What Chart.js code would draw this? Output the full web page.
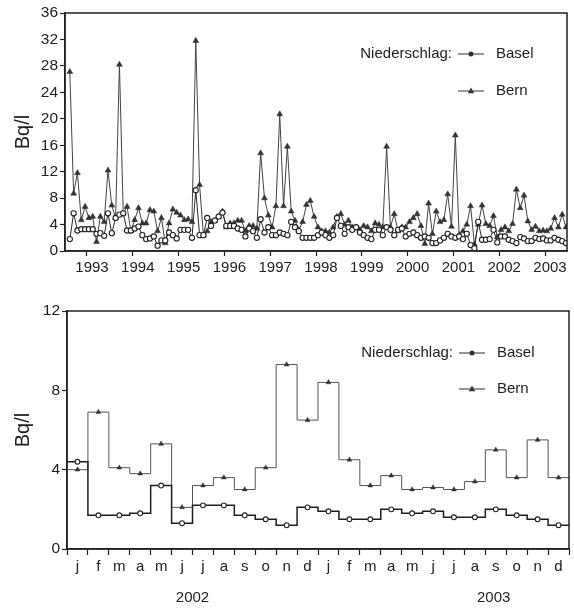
<!DOCTYPE html>
<html>
<head>
<meta charset="utf-8">
<script src="https://cdn.jsdelivr.net/npm/chart.js@4/dist/chart.umd.min.js"></script>
<style>
  html, body { margin: 0; padding: 0; background: #fff; }
  canvas { display: block; }
</style>
</head>
<body>
<canvas id="overview" width="574" height="290"></canvas>
<canvas id="detail" width="574" height="320"></canvas>
<script>
'use strict';

// Series names and key heading
const seriesNames = ['Basel', 'Bern'];
const keyHeading = 'Niederschlag:';

// Monthly means 2002-2003 (Bq/l)
const monthLabels = ['j', 'f', 'm', 'a', 'm', 'j', 'j', 'a', 's', 'o', 'n', 'd',
                     'j', 'f', 'm', 'a', 'm', 'j', 'j', 'a', 's', 'o', 'n', 'd'];
const yearLabels = ['2002', '2003'];
const detailBasel = [4.4, 1.7, 1.7, 1.8, 3.2, 1.3, 2.2, 2.2, 1.7, 1.5, 1.2, 2.1,
                     1.9, 1.5, 1.5, 2.0, 1.8, 1.9, 1.6, 1.6, 2.0, 1.7, 1.5, 1.2];
const detailBern = [4.0, 6.9, 4.1, 3.8, 5.3, 2.1, 3.2, 3.6, 3.0, 4.1, 9.3, 6.5,
                    8.4, 4.5, 3.2, 3.7, 3.0, 3.1, 3.0, 3.4, 5.0, 3.6, 5.5, 3.6];

// Long record, monthly, earlier part (the last 24 months are the detail values)
const earlierBasel = [
  1.8, 5.7, 3.1, 3.3, 3.3, 3.3, 3.3, 2.6, 2.7, 2.3,
  5.7, 2.7, 5.0, 5.5, 5.7, 3.1, 3.1, 3.4, 3.7, 2.4,
  1.8, 1.9, 2.2, 0.8, 1.6, 1.6, 2.8, 2.4, 1.9, 3.2,
  3.2, 3.2, 2.0, 9.2, 2.4, 2.4, 5.0, 3.8, 4.6, 5.2,
  5.8, 3.8, 3.8, 3.8, 3.4, 3.2, 2.2, 3.4, 3.0, 2.0,
  4.8, 2.8, 3.6, 2.4, 2.4, 2.8, 2.6, 2.4, 4.4, 3.6,
  3.0, 2.0, 2.0, 2.0, 2.0, 2.4, 2.8, 2.4, 2.0, 2.4,
  5.0, 3.8, 2.6, 3.6, 3.2, 3.6, 2.8, 2.4, 2.0, 1.8,
  3.2, 3.2, 2.4, 3.6, 3.2, 2.4, 3.2, 3.4, 2.2, 2.6,
  2.8, 2.4, 2.0, 2.2, 2.0, 1.2, 1.2, 1.6, 2.0, 2.6,
  2.2, 2.0, 2.2, 1.8, 2.6, 0.9, 0.4
];
const earlierBern = [
  27.1, 8.7, 11.8, 4.7, 6.7, 5.0, 5.2, 1.4, 5.2, 4.4,
  12.2, 6.9, 5.0, 28.2, 5.7, 6.7, 3.0, 4.7, 6.5, 4.2,
  4.2, 6.2, 6.0, 3.0, 5.0, 1.2, 4.2, 6.3, 5.8, 5.4,
  4.7, 4.8, 4.4, 31.8, 10.0, 2.4, 3.0, 4.4, 4.6, 5.2,
  6.0, 3.6, 4.2, 4.2, 4.6, 4.6, 3.0, 3.8, 3.8, 3.4,
  14.8, 8.0, 5.4, 3.6, 6.8, 20.7, 6.8, 15.8, 6.0, 4.6,
  3.2, 4.4, 7.0, 7.6, 5.2, 3.6, 3.0, 3.0, 2.8, 3.6,
  5.2, 5.6, 4.0, 4.6, 3.6, 3.6, 3.2, 3.8, 3.6, 3.0,
  4.2, 4.0, 3.6, 15.8, 3.6, 5.6, 3.0, 3.6, 3.6, 4.4,
  5.0, 5.6, 3.8, 1.1, 7.2, 2.6, 6.0, 4.4, 4.7, 8.6,
  3.7, 17.5, 2.4, 3.0, 4.0, 6.8, 1.0
];
const overviewBasel = earlierBasel.concat(detailBasel);
const overviewBern = earlierBern.concat(detailBern);
const overviewYears = [1993, 1994, 1995, 1996, 1997, 1998, 1999, 2000, 2001, 2002, 2003];
const overviewStart = 1992 + 7.5 / 12;   // first monthly point on the year axis

const FONT = '"Liberation Sans", Arial, sans-serif';
const INK = '#222';

// box round the plot area
const frame = {
  id: 'frame',
  afterDatasetsDraw(chart) {
    const { ctx, chartArea: a } = chart;
    ctx.save();
    ctx.strokeStyle = INK;
    ctx.lineWidth = 1.5;
    ctx.strokeRect(a.left, a.top, a.right - a.left, a.bottom - a.top);
    ctx.restore();
  }
};

// key in the top right corner: "Niederschlag:  —•— Basel / —▲— Bern"
const seriesKey = {
  id: 'seriesKey',
  afterDraw(chart, args, opts) {
    const ctx = chart.ctx;
    ctx.save();
    ctx.font = '15px ' + FONT;
    ctx.fillStyle = INK;
    ctx.textBaseline = 'middle';
    ctx.textAlign = 'right';
    ctx.fillText(keyHeading, opts.x - 6, opts.y);
    ctx.textAlign = 'left';
    seriesNames.forEach((name, i) => {
      const y = opts.y + i * opts.rowGap;
      const mid = opts.x + 13;
      ctx.strokeStyle = '#333';
      ctx.lineWidth = 1;
      ctx.beginPath();
      ctx.moveTo(opts.x, y);
      ctx.lineTo(opts.x + 26, y);
      ctx.stroke();
      ctx.fillStyle = '#333';
      ctx.beginPath();
      if (i === 0) {
        ctx.arc(mid, y, 2.5, 0, Math.PI * 2);
      } else {
        ctx.moveTo(mid, y - 3.5);
        ctx.lineTo(mid + 3.2, y + 2.2);
        ctx.lineTo(mid - 3.2, y + 2.2);
        ctx.closePath();
      }
      ctx.fill();
      ctx.fillStyle = INK;
      ctx.fillText(name, opts.x + 38, y);
    });
    ctx.restore();
  }
};

Chart.defaults.font.family = FONT;
Chart.defaults.color = INK;

function yAxis(max, width) {
  return {
    min: 0,
    max: max,
    grid: { drawOnChartArea: false, tickLength: 5, tickColor: INK, tickWidth: 1.2 },
    border: { color: INK, width: 1.5 },
    ticks: { stepSize: 4, padding: 2, font: { size: 15.5 }, color: INK },
    title: { display: true, text: 'Bq/l', font: { size: 20 }, color: INK, padding: { top: 11, bottom: 0 } },
    afterFit(scale) { scale.width = width; }
  };
}

// ---- long record ----
new Chart(document.getElementById('overview'), {
  type: 'line',
  data: {
    datasets: [{
      label: seriesNames[0],
      data: overviewBasel.map((v, i) => ({ x: overviewStart + i / 12, y: v })),
      borderColor: '#2a2a2a',
      borderWidth: 1,
      pointStyle: 'circle',
      pointRadius: 2.6,
      pointBorderWidth: 1.1,
      pointBackgroundColor: '#fff',
      pointBorderColor: '#222'
    }, {
      label: seriesNames[1],
      data: overviewBern.map((v, i) => ({ x: overviewStart + i / 12, y: v })),
      borderColor: '#444',
      borderWidth: 1,
      pointStyle: 'triangle',
      pointRadius: 3.4,
      pointBorderWidth: 0.5,
      pointBackgroundColor: '#333',
      pointBorderColor: '#333'
    }]
  },
  options: {
    responsive: false,
    animation: false,
    layout: { padding: { top: 13, right: 7, left: 0, bottom: 0 } },
    plugins: {
      legend: { display: false },
      tooltip: { enabled: false },
      seriesKey: { x: 458, y: 54, rowGap: 37 }
    },
    scales: {
      x: {
        type: 'linear',
        min: 1992.52,
        max: 2003.48,
        grid: { drawOnChartArea: false, tickLength: 5, tickColor: INK, tickWidth: 1.2 },
        border: { color: INK, width: 1.5 },
        afterBuildTicks(scale) { scale.ticks = overviewYears.map(v => ({ value: v })); },
        ticks: {
          autoSkip: false,
          maxRotation: 0,
          padding: 3,
          labelOffset: 5,
          font: { size: 15 },
          color: INK,
          callback: v => String(v)
        },
        afterFit(scale) { scale.height = 39; }
      },
      y: yAxis(36, 65)
    }
  },
  plugins: [frame, seriesKey]
});

// ---- 2002-2003 monthly steps ----
// one point per month centre, plus the two outer edges so the steps reach the frame
function stepPoints(values) {
  const pts = values.map((v, i) => ({ x: i + 0.5, y: v }));
  pts.unshift({ x: 0, y: values[0] });
  pts.push({ x: values.length, y: values[values.length - 1] });
  return pts;
}
const edgeless = r => ctx => (ctx.dataIndex === 0 || ctx.dataIndex === ctx.dataset.data.length - 1) ? 0 : r;

new Chart(document.getElementById('detail'), {
  type: 'line',
  data: {
    datasets: [{
      label: seriesNames[0],
      data: stepPoints(detailBasel),
      stepped: 'middle',
      borderColor: '#1e1e1e',
      borderWidth: 1.5,
      pointStyle: 'circle',
      pointRadius: edgeless(2.4),
      pointBorderWidth: 1.1,
      pointBackgroundColor: '#fff',
      pointBorderColor: '#222'
    }, {
      label: seriesNames[1],
      data: stepPoints(detailBern),
      stepped: 'middle',
      borderColor: '#555',
      borderWidth: 1,
      pointStyle: 'triangle',
      pointRadius: edgeless(2.8),
      pointBorderWidth: 0.5,
      pointBackgroundColor: '#333',
      pointBorderColor: '#333'
    }]
  },
  options: {
    responsive: false,
    animation: false,
    layout: { padding: { top: 21, right: 5, left: 0, bottom: 0 } },
    plugins: {
      legend: { display: false },
      tooltip: { enabled: false },
      seriesKey: { x: 459, y: 63, rowGap: 36 }
    },
    scales: {
      x: {
        type: 'linear',
        min: 0,
        max: monthLabels.length,
        grid: {
          drawOnChartArea: false,
          tickLength: 6,
          tickWidth: 1.2,
          tickColor: ctx => (ctx.index % 2 === 0 ? INK : 'rgba(0,0,0,0)')
        },
        border: { color: INK, width: 1.5 },
        // month boundaries carry the tick marks, month centres the letters
        afterBuildTicks(scale) {
          const ticks = [];
          for (let i = 0; i <= monthLabels.length * 2; i++) ticks.push({ value: i / 2 });
          scale.ticks = ticks;
        },
        ticks: {
          autoSkip: false,
          maxRotation: 0,
          padding: 3,
          font: { size: 15 },
          color: INK,
          callback: (v, i) => (i % 2 === 1 ? monthLabels[(i - 1) / 2] : '')
        },
        afterFit(scale) { scale.height = 30; }
      },
      years: {
        type: 'linear',
        position: 'bottom',
        min: 0,
        max: monthLabels.length,
        grid: { display: false, drawTicks: false },
        border: { display: false },
        afterBuildTicks(scale) { scale.ticks = [{ value: 6 }, { value: 20.4 }]; },
        ticks: {
          autoSkip: false,
          maxRotation: 0,
          padding: 10,
          font: { size: 15 },
          color: INK,
          callback: (v, i) => yearLabels[i]
        },
        afterFit(scale) { scale.height = 31; }
      },
      y: yAxis(12, 67)
    }
  },
  plugins: [frame, seriesKey]
});
</script>
</body>
</html>
